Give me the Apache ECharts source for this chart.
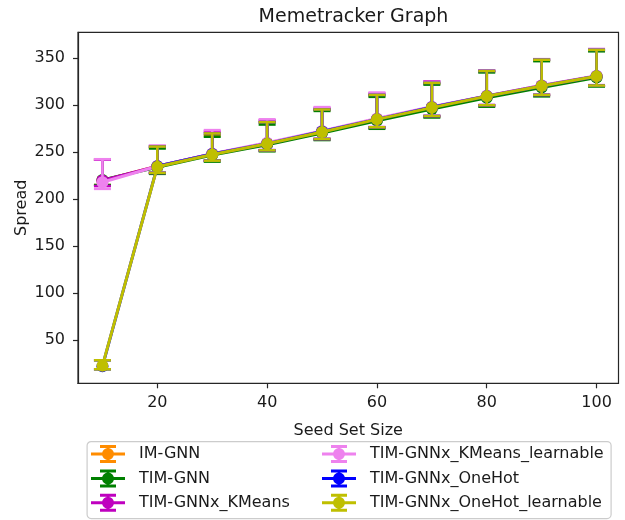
<!DOCTYPE html>
<html>
<head>
<meta charset="utf-8">
<script src="https://cdn.jsdelivr.net/npm/echarts@6/dist/echarts.min.js"></script>
<style>html,body{margin:0;padding:0;background:#fff}#c{width:625px;height:520px}</style>
</head>
<body>
<div id="c"></div>
<script>
// ---- data ----
const seedSizes = [10, 20, 30, 40, 50, 60, 70, 80, 90, 100];
const seriesNames = ['IM-GNN', 'TIM-GNN', 'TIM-GNNx_KMeans', 'TIM-GNNx_KMeans_learnable', 'TIM-GNNx_OneHot', 'TIM-GNNx_OneHot_learnable'];
const seriesColors = ['#ff8c00', '#008000', '#bf00bf', '#ee82ee', '#0000ff', '#bfbf00'];

const imGnnMean  = [220, 235, 248, 259, 272, 285, 298, 309.5, 320.5, 331];
const imGnnLow   = [215, 228, 241, 252, 264, 276, 288, 300, 311, 321];
const imGnnHigh  = [242, 255, 268, 282, 295, 310.5, 323, 336, 348, 358.5];

const timGnnMean = [220.5, 234, 247, 258, 270.5, 283.5, 296, 308, 319, 329.5];
const timGnnLow  = [215, 227, 240, 251, 263, 275, 287, 298.5, 309.5, 320];
const timGnnHigh = [242, 254, 266.5, 279.5, 294, 309, 322, 335, 347, 357.5];

const kmMean = [220, 235, 248, 259.5, 272, 285.5, 298, 310, 321, 331];
const kmLow  = [214, 228, 241, 252, 264, 276.5, 288.5, 300, 311, 321];
const kmHigh = [242, 256.5, 272, 284, 297, 312.5, 325.5, 337, 349, 359.5];

const kmLearnMean = [218, 235, 248.5, 260, 272.5, 286, 298.5, 310, 321, 331.5];
const kmLearnLow  = [211, 228.5, 241, 252.5, 264.5, 277, 289, 300.5, 311.5, 321.5];
const kmLearnHigh = [242.5, 257, 273.5, 285, 298, 313.5, 325, 337, 349, 360];

const ohMean = [22, 235, 248, 259, 272, 285, 298, 309.5, 320.5, 331];
const ohLow  = [18.8, 228, 241, 252, 264, 276.5, 288.5, 300, 311, 321];
const ohHigh = [28.4, 256, 270, 282, 295.5, 311, 323.8, 336.5, 348.5, 359];

const ohLearnMean = [22.5, 234.5, 247.5, 259, 271.5, 285, 297.5, 309.5, 320.5, 331];
const ohLearnLow  = [18.8, 228, 241, 252, 264, 276.5, 288.5, 300, 311, 321];
const ohLearnHigh = [28.4, 256, 270, 282, 295.5, 311, 323.8, 336.5, 348.5, 359];

const xTicks = [20, 40, 60, 80, 100];
const yTicks = [50, 100, 150, 200, 250, 300, 350];

const means = [imGnnMean, timGnnMean, kmMean, kmLearnMean, ohMean, ohLearnMean];
const lows  = [imGnnLow, timGnnLow, kmLow, kmLearnLow, ohLow, ohLearnLow];
const highs = [imGnnHigh, timGnnHigh, kmHigh, kmLearnHigh, ohHigh, ohLearnHigh];

// ---- chart ----
const FONT = 'DejaVu Sans';
const TXT = '#1a1a1a';
const AX = '#262626';
const icon = 'path://M0,7.5h34v3h-34Z M15.5,0h3v18h-3Z M9,0h16v3h-16Z M9,15h16v3h-16Z M23,9A6,6 0 1,1 11,9A6,6 0 1,1 23,9Z';

const chart = echarts.init(document.getElementById('c'), null, {renderer: 'canvas'});
const series = [];
seriesNames.forEach((name, i) => {
  const color = seriesColors[i];
  series.push({
    type: 'custom',
    name: name,
    z: 2 + i * 2,
    silent: true,
    color: color,
    itemStyle: {color: color},
    data: seedSizes.map((x, k) => [x, lows[i][k], highs[i][k]]),
    encode: {x: 0, y: [1, 2]},
    renderItem: function (params, api) {
      const x = api.value(0);
      const lo = api.coord([x, api.value(1)]);
      const hi = api.coord([x, api.value(2)]);
      const hw = 8.5;
      const st = {stroke: color, lineWidth: 2.6};
      return {
        type: 'group',
        children: [
          {type: 'line', shape: {x1: lo[0], y1: lo[1], x2: hi[0], y2: hi[1]}, style: st},
          {type: 'line', shape: {x1: lo[0] - hw, y1: lo[1], x2: lo[0] + hw, y2: lo[1]}, style: st},
          {type: 'line', shape: {x1: hi[0] - hw, y1: hi[1], x2: hi[0] + hw, y2: hi[1]}, style: st}
        ]
      };
    }
  });
  series.push({
    type: 'line',
    name: name,
    z: 3 + i * 2,
    data: seedSizes.map((x, k) => [x, means[i][k]]),
    symbol: 'circle',
    symbolSize: 12,
    showSymbol: true,
    color: color,
    itemStyle: {color: color},
    lineStyle: {color: color, width: 3},
    emphasis: {disabled: true},
    animation: false
  });
});

const legendText = {fontFamily: FONT, fontSize: 16, color: TXT, padding: [0, 0, 0, 9], lineHeight: 18};
const mkLegendData = names => names.map(n => ({
  name: n, icon: icon,
  itemStyle: {color: seriesColors[seriesNames.indexOf(n)], borderWidth: 0}
}));
const option = {
  animation: false,
  backgroundColor: '#fff',
  title: {
    text: 'Memetracker Graph',
    left: 348.5, textAlign: 'center', top: 3,
    textStyle: {fontFamily: FONT, fontSize: 19, fontWeight: 'normal', color: TXT}
  },
  grid: {left: 78, right: 6.5, top: 32.3, bottom: 136.7, show: true, borderColor: AX, borderWidth: 1.2, backgroundColor: 'transparent'},
  xAxis: {
    type: 'value', min: 5.55, max: 104,
    name: 'Seed Set Size', nameLocation: 'middle', nameGap: 40, nameMoveOverlap: false,
    nameTextStyle: {fontFamily: FONT, fontSize: 16, color: TXT},
    axisLine: {show: true, onZero: false, lineStyle: {color: AX, width: 1.2}},
    axisTick: {show: true, inside: false, length: 5, lineStyle: {color: AX, width: 1.2}, customValues: xTicks},
    axisLabel: {fontFamily: FONT, fontSize: 16, color: TXT, margin: 12, customValues: xTicks},
    splitLine: {show: false}
  },
  yAxis: {
    type: 'value', min: 3.9, max: 377.7,
    name: 'Spread', nameLocation: 'middle', nameGap: 48, nameRotate: 90, nameMoveOverlap: false,
    nameTextStyle: {fontFamily: FONT, fontSize: 16, color: TXT},
    axisLine: {show: true, onZero: false, lineStyle: {color: AX, width: 1.2}},
    axisTick: {show: true, inside: false, length: 5, lineStyle: {color: AX, width: 1.2}, customValues: yTicks},
    axisLabel: {fontFamily: FONT, fontSize: 16, color: TXT, margin: 13, customValues: yTicks},
    splitLine: {show: false}
  },
  legend: [
    {
      data: mkLegendData(seriesNames.slice(0, 3)),
      orient: 'vertical', left: 91, top: 445, itemWidth: 34, itemHeight: 18, itemGap: 6.4,
      textStyle: legendText, selectedMode: false, padding: 0, z: 20
    },
    {
      data: mkLegendData(seriesNames.slice(3)),
      orient: 'vertical', left: 322, top: 445, itemWidth: 34, itemHeight: 18, itemGap: 6.4,
      textStyle: legendText, selectedMode: false, padding: 0, z: 20
    }
  ],
  graphic: [
    {type: 'rect', left: 86.5, top: 441, z: 10, shape: {width: 524, height: 77, r: 4},
     style: {fill: 'rgba(255,255,255,0.8)', stroke: '#cccccc', lineWidth: 1.2}}
  ],
  series: series
};
chart.setOption(option);
</script>
</body>
</html>
